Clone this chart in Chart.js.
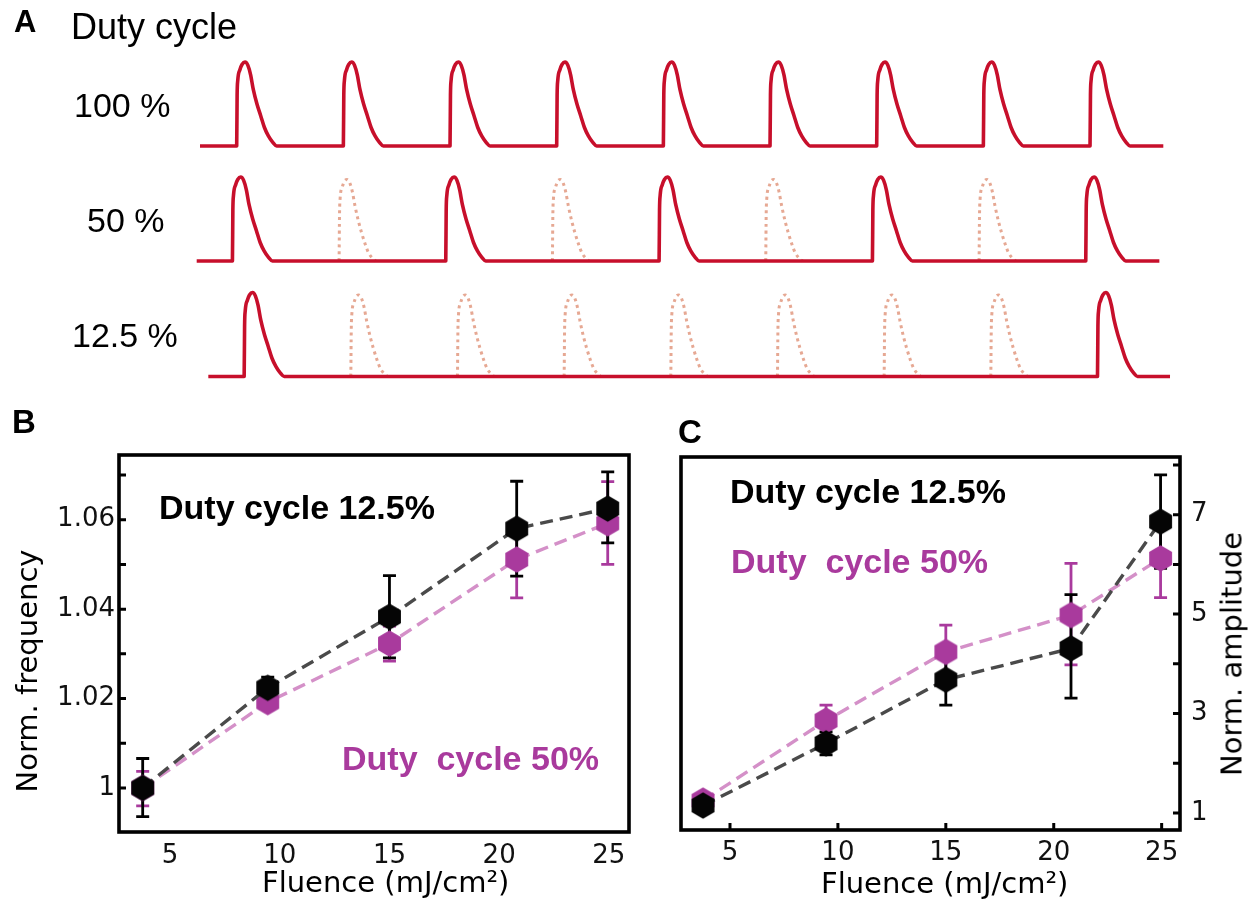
<!DOCTYPE html>
<html>
<head>
<meta charset="utf-8">
<script src="https://cdn.jsdelivr.net/npm/chart.js@4.4.1/dist/chart.umd.min.js"></script>
<style>
  html, body { margin: 0; padding: 0; background: #fff; }
  #wrap { position: relative; width: 1256px; height: 910px; overflow: hidden; background: #fff; }
  canvas { position: absolute; }
  .t { position: absolute; line-height: 1; white-space: pre; color: #000; font-family: "Liberation Sans", Arial, sans-serif; }
  .bold { font-weight: bold; }
  .mag { color: #a93a9d; }
  .reg { font-family: "DejaVu Sans", sans-serif; }
  .rot { transform: translate(-50%, -50%) rotate(-90deg); }
</style>
</head>
<body>
<div id="wrap">
  <canvas id="cA" width="1256" height="400" style="left:0px;top:0px"></canvas>
  <canvas id="cB" width="660" height="515" style="left:0px;top:395px"></canvas>
  <canvas id="cC" width="596" height="515" style="left:660px;top:395px"></canvas>

  <div class="t bold" style="left:14px;top:6px;font-size:31px">A</div>
  <div class="t" style="left:71px;top:9px;font-size:36px">Duty cycle</div>
  <div class="t" style="left:74px;top:88px;font-size:34px">100 %</div>
  <div class="t" style="left:87px;top:203px;font-size:34px">50 %</div>
  <div class="t" style="left:72px;top:318px;font-size:34px">12.5 %</div>

  <div class="t bold" style="left:12px;top:405px;font-size:33px">B</div>
  <div class="t bold" style="left:678px;top:415px;font-size:33px">C</div>

  <div class="t bold" style="left:159px;top:490px;font-size:34px">Duty cycle 12.5%</div>
  <div class="t bold mag" style="left:342px;top:741px;font-size:34px">Duty  cycle 50%</div>
  <div class="t bold" style="left:730px;top:474px;font-size:34px">Duty cycle 12.5%</div>
  <div class="t bold mag" style="left:731px;top:544px;font-size:34px">Duty  cycle 50%</div>

  <div class="t reg" style="left:262px;top:868px;font-size:29px">Fluence (mJ/cm²)</div>
  <div class="t reg" style="left:821px;top:869px;font-size:29px">Fluence (mJ/cm²)</div>
  <div class="t reg rot" style="left:27px;top:671px;font-size:29px">Norm. frequency</div>
  <div class="t reg rot" style="left:1232px;top:654px;font-size:29px">Norm. amplitude</div>
</div>

<script>
// ---------------- Panel A data (pulse schematic, time in pulse periods) ----------------
const pulseShapeT = [0, 0.004, 0.01, 0.031, 0.05, 0.078, 0.105, 0.13, 0.156, 0.19, 0.225, 0.26, 0.297, 0.34, 0.375];
const pulseShapeA = [0, 0.6, 0.78, 0.91, 0.97, 1.0, 0.96, 0.85, 0.67, 0.5, 0.36, 0.22, 0.12, 0.04, 0];
const ghostShapeT = [0, 0.004, 0.01, 0.03, 0.05, 0.075, 0.1, 0.125, 0.15, 0.18, 0.21, 0.245, 0.275, 0.315, 0.345];
const ghostShapeA = [0, 0.55, 0.75, 0.88, 0.95, 0.97, 0.93, 0.82, 0.65, 0.48, 0.34, 0.2, 0.1, 0.03, 0];

const row100Solid = [0, 1, 2, 3, 4, 5, 6, 7, 8];
const row100Ghost = [];
const row50Solid = [-0.04, 1.96, 3.96, 5.96, 7.96];
const row50Ghost = [0.96, 2.96, 4.96, 6.96];
const row12Solid = [0.07, 8.07];
const row12Ghost = [1.07, 2.07, 3.07, 4.07, 5.07, 6.07, 7.07];
const rowSpan = [[-0.344, 8.687], [-0.375, 8.65], [-0.266, 8.75]];
const rowLevel = [2.744, 1.375, 0];

// ---------------- Panels B and C data ----------------
const fluence = [3.75, 9.45, 15.0, 20.8, 24.95];
const fluenceTicks = [5, 10, 15, 20, 25];

const freq125   = [1.0000, 1.0224, 1.0383, 1.0580, 1.0625];
const freq125Lo = [0.9936, 1.0200, 1.0291, 1.0474, 1.0548];
const freq125Hi = [1.0066, 1.0248, 1.0475, 1.0686, 1.0707];
const freq50    = [1.0000, 1.0192, 1.0323, 1.0511, 1.0592];
const freq50Lo  = [0.9960, 1.0177, 1.0284, 1.0425, 1.0500];
const freq50Hi  = [1.0037, 1.0207, 1.0362, 1.0597, 1.0685];
const freqTicks = [1.00, 1.01, 1.02, 1.03, 1.04, 1.05, 1.06, 1.07];
const freqTickLabels = ['1', '', '1.02', '', '1.04', '', '1.06', ''];

const amp125   = [1.15, 2.40, 3.68, 4.31, 6.86];
const amp125Lo = [1.05, 2.17, 3.17, 3.31, 5.92];
const amp125Hi = [1.25, 2.63, 4.19, 5.39, 7.80];
const amp50    = [1.25, 2.86, 4.24, 4.98, 6.12];
const amp50Lo  = [1.20, 2.55, 3.70, 3.98, 5.33];
const amp50Hi  = [1.30, 3.17, 4.78, 6.02, 6.93];
const ampTicks = [1, 2, 3, 4, 5, 6, 7, 8];
const ampTickLabels = ['1', '', '3', '', '5', '', '7', ''];

// ---------------- colours ----------------
const RED = '#c70f2b';
const GHOST = '#e6a893';
const BLACK = '#050505';
const MAG = '#a93a9d';
const LINE_BLACK = '#4a4a4a';
const LINE_MAG = '#d490c8';

// ---------------- Panel A ----------------
function trainPoints(span, onsets, level) {
  const pts = [{x: span[0], y: level}];
  onsets.forEach(o => pulseShapeT.forEach((t, i) => pts.push({x: o + t, y: level + pulseShapeA[i]})));
  pts.push({x: span[1], y: level});
  return pts;
}
function ghostPoints(onset, level) {
  return ghostShapeT.map((t, i) => ({x: onset + t, y: level + ghostShapeA[i]}));
}
const rowsSolid = [row100Solid, row50Solid, row12Solid];
const rowsGhost = [row100Ghost, row50Ghost, row12Ghost];
const aDatasets = [];
rowsSolid.forEach((onsets, r) => {
  aDatasets.push({
    data: trainPoints(rowSpan[r], onsets, rowLevel[r]),
    borderColor: RED, borderWidth: 3.6, pointRadius: 0,
    cubicInterpolationMode: 'monotone', borderJoinStyle: 'round', order: 0
  });
  rowsGhost[r].forEach(o => aDatasets.push({
    data: ghostPoints(o, rowLevel[r]),
    borderColor: GHOST, borderWidth: 3, borderDash: [3, 3.8], pointRadius: 0,
    cubicInterpolationMode: 'monotone', order: 1
  }));
});

Chart.defaults.font.family = '"Liberation Sans", Arial, sans-serif';
Chart.defaults.color = '#111';

new Chart(document.getElementById('cA'), {
  type: 'line',
  data: {datasets: aDatasets},
  options: {
    responsive: false, animation: false, devicePixelRatio: 1,
    layout: {padding: 0},
    plugins: {legend: {display: false}, tooltip: {enabled: false}},
    scales: {
      x: {type: 'linear', display: false, min: -2.219, max: 9.556},
      y: {type: 'linear', display: false, min: -0.28, max: 4.482}
    }
  }
});

// ---------------- helpers for B and C ----------------
function hexImage(color, r) {
  const s = Math.ceil(2 * r + 2);
  const c = document.createElement('canvas');
  c.width = s; c.height = s;
  const g = c.getContext('2d');
  g.fillStyle = color;
  g.beginPath();
  for (let k = 0; k < 6; k++) {
    const a = -Math.PI / 2 + k * Math.PI / 3;
    g.lineTo(s / 2 + r * Math.cos(a), s / 2 + r * Math.sin(a));
  }
  g.closePath();
  g.fill();
  return c;
}
const hexBlack = hexImage(BLACK, 13.2);
const hexMag = hexImage(MAG, 13.2);

const errorBarPlugin = {
  id: 'errorBars',
  beforeDatasetsDraw(chart) {
    const {ctx, scales: {x, y}} = chart;
    const dss = chart.data.datasets;
    for (let i = dss.length - 1; i >= 0; i--) {
      const ds = dss[i];
      if (!ds.errLow) continue;
      ctx.save();
      ctx.strokeStyle = ds.errColor;
      ctx.lineWidth = 2.8;
      ds.data.forEach((p, j) => {
        const px = x.getPixelForValue(p.x);
        const lo = y.getPixelForValue(ds.errLow[j]);
        const hi = y.getPixelForValue(ds.errHigh[j]);
        ctx.beginPath();
        ctx.moveTo(px, lo); ctx.lineTo(px, hi);
        ctx.moveTo(px - 6.5, lo); ctx.lineTo(px + 6.5, lo);
        ctx.moveTo(px - 6.5, hi); ctx.lineTo(px + 6.5, hi);
        ctx.stroke();
      });
      ctx.restore();
    }
  }
};

const framePlugin = {
  id: 'frame',
  afterDatasetsDraw(chart, args, opts) {
    const {ctx, chartArea: a, scales} = chart;
    ctx.save();
    ctx.strokeStyle = '#000';
    ctx.lineWidth = 3.6;
    ctx.lineJoin = 'miter';
    ctx.strokeRect(a.left, a.top, a.right - a.left, a.bottom - a.top);
    ctx.lineWidth = 3;
    const len = 7;
    ctx.beginPath();
    if (opts.ySide) {
      scales.y.ticks.forEach(t => {
        const py = scales.y.getPixelForValue(t.value);
        if (py < a.top + 3 || py > a.bottom - 3) return;
        const x0 = opts.ySide === 'left' ? a.left : a.right;
        const d = opts.ySide === 'left' ? 1 : -1;
        ctx.moveTo(x0, py); ctx.lineTo(x0 + d * len, py);
      });
    }
    if (opts.xTicks) {
      scales.x.ticks.forEach(t => {
        const px = scales.x.getPixelForValue(t.value);
        ctx.moveTo(px, a.bottom); ctx.lineTo(px, a.bottom - len);
      });
    }
    ctx.stroke();
    ctx.restore();
  }
};

function seriesSet(label, xs, ys, lo, hi, lineColor, img, errColor) {
  return {
    label,
    data: xs.map((x, i) => ({x, y: ys[i]})),
    borderColor: lineColor, borderWidth: 3.4, borderDash: [13, 7],
    pointStyle: img, pointRadius: 13, pointHoverRadius: 13,
    errLow: lo, errHigh: hi, errColor
  };
}

const TICK_FONT = {family: '"DejaVu Sans", sans-serif', size: 26};

function panelOptions(cfg) {
  return {
    responsive: false, animation: false, devicePixelRatio: 1,
    layout: {padding: cfg.padding},
    plugins: {legend: {display: false}, tooltip: {enabled: false},
              frame: {ySide: cfg.ySide, xTicks: cfg.xTicks}},
    scales: {
      x: {
        type: 'linear', min: cfg.xMin, max: cfg.xMax,
        grid: {display: false, drawTicks: false}, border: {display: false},
        ticks: {font: TICK_FONT, color: '#111',
                padding: cfg.xPad, autoSkip: false, maxRotation: 0},
        afterBuildTicks: s => { s.ticks = fluenceTicks.map(v => ({value: v})); },
        afterFit: s => { s.height = cfg.xHeight; }
      },
      y: {
        type: 'linear', position: cfg.ySide, min: cfg.yMin, max: cfg.yMax,
        grid: {display: false, drawTicks: false}, border: {display: false},
        ticks: {font: TICK_FONT, color: '#111',
                padding: cfg.yPad, autoSkip: false,
                callback: (v, i) => cfg.yLabels[i]},
        afterBuildTicks: s => { s.ticks = cfg.yTicks.map(v => ({value: v})); },
        afterFit: s => { s.width = cfg.yWidth; }
      }
    }
  };
}

// ---------------- Panel B ----------------
new Chart(document.getElementById('cB'), {
  type: 'line',
  data: {datasets: [
    seriesSet('Duty cycle 12.5%', fluence, freq125, freq125Lo, freq125Hi, LINE_BLACK, hexBlack, '#000'),
    seriesSet('Duty cycle 50%', fluence, freq50, freq50Lo, freq50Hi, LINE_MAG, hexMag, MAG)
  ]},
  options: panelOptions({
    padding: {left: 0, top: 60, right: 31, bottom: 0},
    xMin: 2.67, xMax: 25.92, yMin: 0.99016, yMax: 1.07447,
    yTicks: freqTicks, yLabels: freqTickLabels, ySide: 'left', xTicks: false,
    xPad: 9, yPad: 4, xHeight: 78, yWidth: 119
  }),
  plugins: [errorBarPlugin, framePlugin]
});

// ---------------- Panel C ----------------
new Chart(document.getElementById('cC'), {
  type: 'line',
  data: {datasets: [
    seriesSet('Duty cycle 12.5%', fluence, amp125, amp125Lo, amp125Hi, LINE_BLACK, hexBlack, '#000'),
    seriesSet('Duty cycle 50%', fluence, amp50, amp50Lo, amp50Hi, LINE_MAG, hexMag, MAG)
  ]},
  options: panelOptions({
    padding: {left: 21, top: 62, right: 0, bottom: 0},
    xMin: 2.73, xMax: 25.85, yMin: 0.658, yMax: 8.16,
    yTicks: ampTicks, yLabels: ampTickLabels, ySide: 'right', xTicks: true,
    xPad: 8, yPad: 11, xHeight: 80, yWidth: 76
  }),
  plugins: [errorBarPlugin, framePlugin]
});
</script>
</body>
</html>
